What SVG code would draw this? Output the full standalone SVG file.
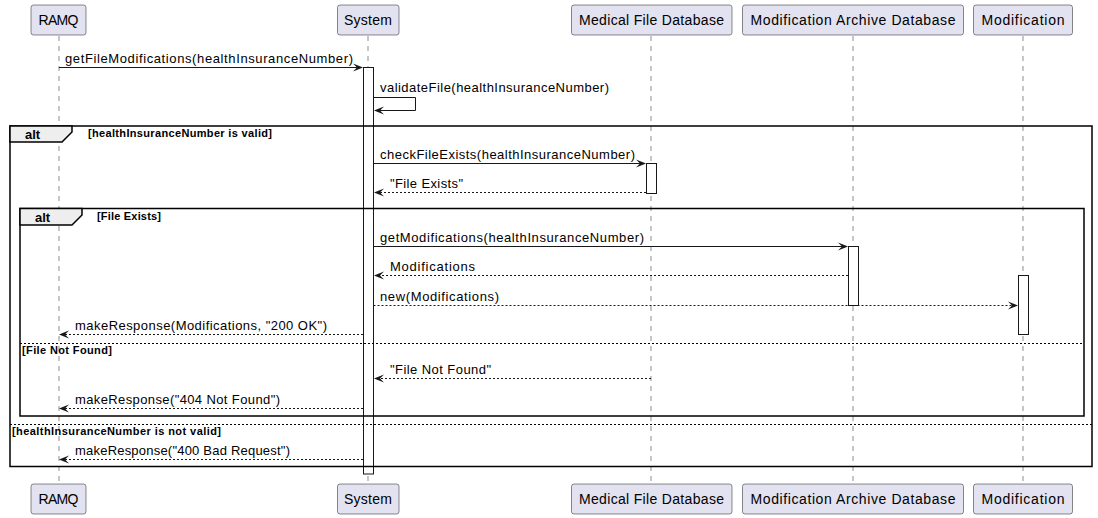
<svg xmlns="http://www.w3.org/2000/svg" width="1098" height="518" viewBox="0 0 1098 518">
<style>
.p{fill:#E2E2F0;stroke:#181818;stroke-width:0.5}
.pt{font-family:"Liberation Sans",Arial,sans-serif;font-size:14px;fill:#000}
.life{stroke:#181818;stroke-width:0.5;stroke-dasharray:5,5}
.act{fill:#FFFFFF;stroke:#181818;stroke-width:1}
.m{stroke:#181818;stroke-width:1;fill:none}
.d{stroke:#181818;stroke-width:1;fill:none;stroke-dasharray:2,2}
.mt{font-family:"Liberation Sans",Arial,sans-serif;font-size:13px;fill:#000}
.frame{fill:none;stroke:#000;stroke-width:1.5}
.tab{fill:#EEEEEE;stroke:#000;stroke-width:1.5}
.sep{stroke:#000;stroke-width:1;stroke-dasharray:2,2}
.at{font-family:"Liberation Sans",Arial,sans-serif;font-size:13px;font-weight:bold;fill:#000}
.ct{font-family:"Liberation Sans",Arial,sans-serif;font-size:11px;font-weight:bold;fill:#000}
.ah{fill:#181818}
</style>
<g id="lifelines">
<line class="life" x1="59" y1="36" x2="59" y2="484"/>
<line class="life" x1="368" y1="36" x2="368" y2="484"/>
<line class="life" x1="651" y1="36" x2="651" y2="484"/>
<line class="life" x1="853" y1="36" x2="853" y2="484"/>
<line class="life" x1="1023" y1="36" x2="1023" y2="484"/>
</g>
<g id="RAMQ">
<rect class="p" x="31" y="5" width="55" height="30" rx="2.5"/>
<text class="pt" x="58.5" y="25" text-anchor="middle" textLength="40">RAMQ</text>
<rect class="p" x="31" y="484" width="55" height="30" rx="2.5"/>
<text class="pt" x="58.5" y="504" text-anchor="middle" textLength="40">RAMQ</text>
</g>
<g id="System">
<rect class="p" x="337.5" y="5" width="61.5" height="30" rx="2.5"/>
<text class="pt" x="368" y="25" text-anchor="middle" textLength="48">System</text>
<rect class="p" x="337.5" y="484" width="61.5" height="30" rx="2.5"/>
<text class="pt" x="368" y="504" text-anchor="middle" textLength="48">System</text>
</g>
<g id="MedicalFileDatabase">
<rect class="p" x="571.5" y="5" width="160.5" height="30" rx="2.5"/>
<text class="pt" x="651.5" y="25" text-anchor="middle" textLength="145">Medical File Database</text>
<rect class="p" x="571.5" y="484" width="160.5" height="30" rx="2.5"/>
<text class="pt" x="651.5" y="504" text-anchor="middle" textLength="145">Medical File Database</text>
</g>
<g id="ModificationArchiveDatabase">
<rect class="p" x="742.5" y="5" width="221" height="30" rx="2.5"/>
<text class="pt" x="853" y="25" text-anchor="middle" textLength="205">Modification Archive Database</text>
<rect class="p" x="742.5" y="484" width="221" height="30" rx="2.5"/>
<text class="pt" x="853" y="504" text-anchor="middle" textLength="205">Modification Archive Database</text>
</g>
<g id="Modification">
<rect class="p" x="973.5" y="5" width="99" height="30" rx="2.5"/>
<text class="pt" x="1023" y="25" text-anchor="middle" textLength="83">Modification</text>
<rect class="p" x="973.5" y="484" width="99" height="30" rx="2.5"/>
<text class="pt" x="1023" y="504" text-anchor="middle" textLength="83">Modification</text>
</g>
<g id="activations">
<rect class="act" x="363.5" y="67.5" width="10" height="406.5"/>
<rect class="act" x="646.5" y="163.5" width="10" height="30"/>
<rect class="act" x="848.5" y="246.5" width="10" height="59"/>
<rect class="act" x="1018.5" y="275.5" width="10" height="59"/>
</g>
<g id="frames">
<rect class="frame" x="10" y="126" width="1082" height="340.5"/>
<path class="tab" d="M10,126 H72 V132 L62,142 H10 Z"/>
<text class="at" x="25" y="139">alt</text>
<text class="ct" x="88" y="137" textLength="184">[healthInsuranceNumber is valid]</text>
<rect class="frame" x="20" y="208.5" width="1064" height="207.5"/>
<path class="tab" d="M20,208.5 H82 V215 L72,225 H20 Z"/>
<text class="at" x="35" y="221.5">alt</text>
<text class="ct" x="97" y="219.5" textLength="64">[File Exists]</text>
<line class="sep" x1="20" y1="343.5" x2="1084" y2="343.5"/>
<text class="ct" x="22" y="354" textLength="90">[File Not Found]</text>
<line class="sep" x1="10" y1="424.5" x2="1092" y2="424.5"/>
<text class="ct" x="12" y="434.5" textLength="209">[healthInsuranceNumber is not valid]</text>
</g>
<g id="connectors">
<line class="m" x1="59" y1="67.5" x2="362" y2="67.5"/>
<polygon class="ah" points="363,67.5 353,63.5 357,67.5 353,71.5"/>
<text class="mt" x="65" y="63" textLength="288">getFileModifications(healthInsuranceNumber)</text>

<polyline class="m" points="373.5,97.5 415.5,97.5 415.5,110.5 375,110.5"/>
<polygon class="ah" points="374,110.5 384,106.5 380,110.5 384,114.5"/>
<text class="mt" x="380" y="92" textLength="229">validateFile(healthInsuranceNumber)</text>

<line class="m" x1="373.5" y1="163.5" x2="645" y2="163.5"/>
<polygon class="ah" points="646,163.5 636,159.5 640,163.5 636,167.5"/>
<text class="mt" x="380" y="159" textLength="255">checkFileExists(healthInsuranceNumber)</text>

<line class="d" x1="646" y1="192.5" x2="375" y2="192.5"/>
<polygon class="ah" points="374,192.5 384,188.5 380,192.5 384,196.5"/>
<text class="mt" x="390" y="188" textLength="73">"File Exists"</text>

<line class="m" x1="373.5" y1="246.5" x2="847" y2="246.5"/>
<polygon class="ah" points="848,246.5 838,242.5 842,246.5 838,250.5"/>
<text class="mt" x="380" y="242" textLength="264">getModifications(healthInsuranceNumber)</text>

<line class="d" x1="848" y1="275.5" x2="375" y2="275.5"/>
<polygon class="ah" points="374,275.5 384,271.5 380,275.5 384,279.5"/>
<text class="mt" x="390" y="271" textLength="85">Modifications</text>

<line class="d" x1="373.5" y1="305.5" x2="1017" y2="305.5"/>
<polygon class="ah" points="1018,305.5 1008,301.5 1012,305.5 1008,309.5"/>
<text class="mt" x="380" y="301" textLength="119">new(Modifications)</text>

<line class="d" x1="363" y1="334.5" x2="60" y2="334.5"/>
<polygon class="ah" points="59,334.5 69,330.5 65,334.5 69,338.5"/>
<text class="mt" x="75" y="330" textLength="252">makeResponse(Modifications, "200 OK")</text>

<line class="d" x1="651" y1="378.5" x2="375" y2="378.5"/>
<polygon class="ah" points="374,378.5 384,374.5 380,378.5 384,382.5"/>
<text class="mt" x="390" y="374" textLength="101">"File Not Found"</text>

<line class="d" x1="363" y1="408.5" x2="60" y2="408.5"/>
<polygon class="ah" points="59,408.5 69,404.5 65,408.5 69,412.5"/>
<text class="mt" x="75" y="404" textLength="205">makeResponse("404 Not Found")</text>

<line class="d" x1="363" y1="459.5" x2="60" y2="459.5"/>
<polygon class="ah" points="59,459.5 69,455.5 65,459.5 69,463.5"/>
<text class="mt" x="75" y="455" textLength="215">makeResponse("400 Bad Request")</text>
</g>
</svg>
